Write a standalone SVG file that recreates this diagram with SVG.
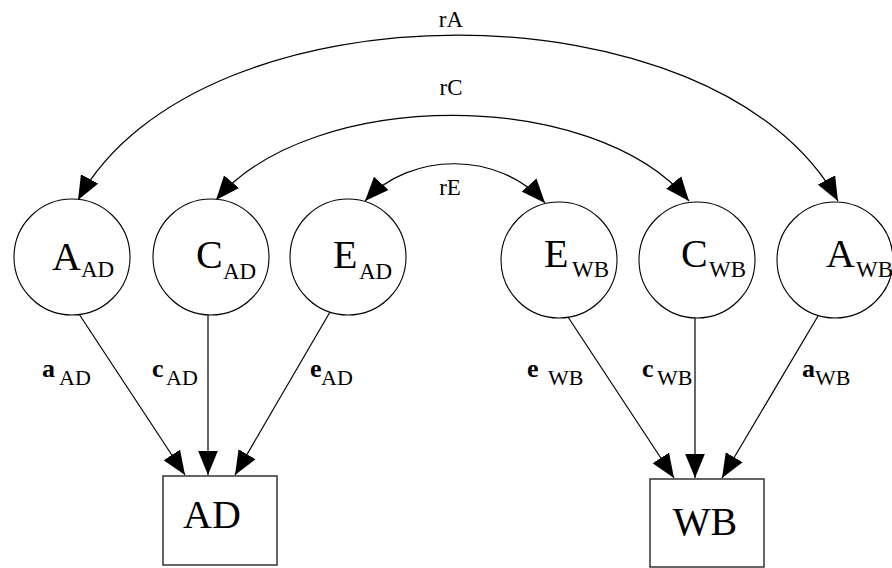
<svg xmlns="http://www.w3.org/2000/svg" width="892" height="568" viewBox="0 0 892 568">
<style>
  .node { fill: #ffffff; stroke: #000000; stroke-width: 1.1; }
  .box { fill: #ffffff; stroke: #333333; stroke-width: 1.5; }
  .edge { fill: none; stroke: #000000; stroke-width: 1.2; }
</style>
<defs>
  <marker id="arrow" markerUnits="userSpaceOnUse" markerWidth="24" markerHeight="20" viewBox="0 0 22 18" refX="22" refY="9" orient="auto-start-reverse">
    <path d="M0,0 L22,9 L0,18 z" fill="#000"/>
  </marker>
</defs>
<rect x="0" y="0" width="892" height="568" fill="#ffffff"/>

<g id="connectors">
  <path id="rA-edge" class="edge" d="M78,200 C199,-20 717,-20 838,201" marker-start="url(#arrow)" marker-end="url(#arrow)"/>
  <path id="rC-edge" class="edge" d="M216,200 C312,87 594,87 689,201" marker-start="url(#arrow)" marker-end="url(#arrow)"/>
  <path id="rE-edge" class="edge" d="M365,201 C411,151 499,151 545,203" marker-start="url(#arrow)" marker-end="url(#arrow)"/>
  <path class="edge" d="M79,314 L185,475" marker-end="url(#arrow)"/>
  <path class="edge" d="M208,314 L208,475" marker-end="url(#arrow)"/>
  <path class="edge" d="M330,312 L235,475" marker-end="url(#arrow)"/>
  <path class="edge" d="M568,317 L674,478" marker-end="url(#arrow)"/>
  <path class="edge" d="M695,317 L695,478" marker-end="url(#arrow)"/>
  <path class="edge" d="M818,316 L722,478" marker-end="url(#arrow)"/>
  <g font-family="Liberation Serif, Times New Roman, DejaVu Serif, serif" fill="#000000">
    <g font-size="23" text-anchor="middle">
      <text x="451" y="27">rA</text>
      <text x="451" y="95">rC</text>
      <text x="450" y="195">rE</text>
    </g>
    <g font-size="26" font-weight="bold">
      <text x="42" y="377">a</text>
      <text x="152" y="377">c</text>
      <text x="310" y="377">e</text>
      <text x="527" y="377">e</text>
      <text x="642" y="377">c</text>
      <text x="802" y="377">a</text>
    </g>
    <g font-size="22">
      <text x="59" y="385">AD</text>
      <text x="166" y="385">AD</text>
      <text x="321" y="385">AD</text>
      <text x="548" y="385">WB</text>
      <text x="657" y="385">WB</text>
      <text x="815" y="385">WB</text>
    </g>
  </g>
</g>

<g font-family="Liberation Serif, Times New Roman, DejaVu Serif, serif" fill="#000000">
<g id="A_AD">
  <circle class="node" cx="72" cy="257" r="58"/>
  <text font-size="40" x="52" y="270">A</text><text font-size="23" x="81" y="277">AD</text>
</g>
<g id="C_AD">
  <circle class="node" cx="211" cy="257" r="58"/>
  <text font-size="40" x="196" y="268">C</text><text font-size="23" x="223" y="279">AD</text>
</g>
<g id="E_AD">
  <circle class="node" cx="348" cy="257" r="58"/>
  <text font-size="40" x="333" y="268">E</text><text font-size="23" x="359" y="279">AD</text>
</g>
<g id="E_WB">
  <circle class="node" cx="559" cy="260" r="58"/>
  <text font-size="40" x="544" y="267">E</text><text font-size="23" x="572" y="277">WB</text>
</g>
<g id="C_WB">
  <circle class="node" cx="697" cy="260" r="58"/>
  <text font-size="40" x="681" y="267">C</text><text font-size="23" x="709" y="277">WB</text>
</g>
<g id="A_WB">
  <circle class="node" cx="835" cy="260" r="58"/>
  <text font-size="40" x="826" y="267">A</text><text font-size="23" x="856" y="277">WB</text>
</g>
<g id="AD">
  <rect class="box" x="163" y="476" width="114" height="89"/>
  <text font-size="40" x="212" y="528" text-anchor="middle">AD</text>
</g>
<g id="WB">
  <rect class="box" x="650" y="479" width="114" height="88"/>
  <text font-size="40" x="705" y="535" text-anchor="middle">WB</text>
</g>
</g>
</svg>
